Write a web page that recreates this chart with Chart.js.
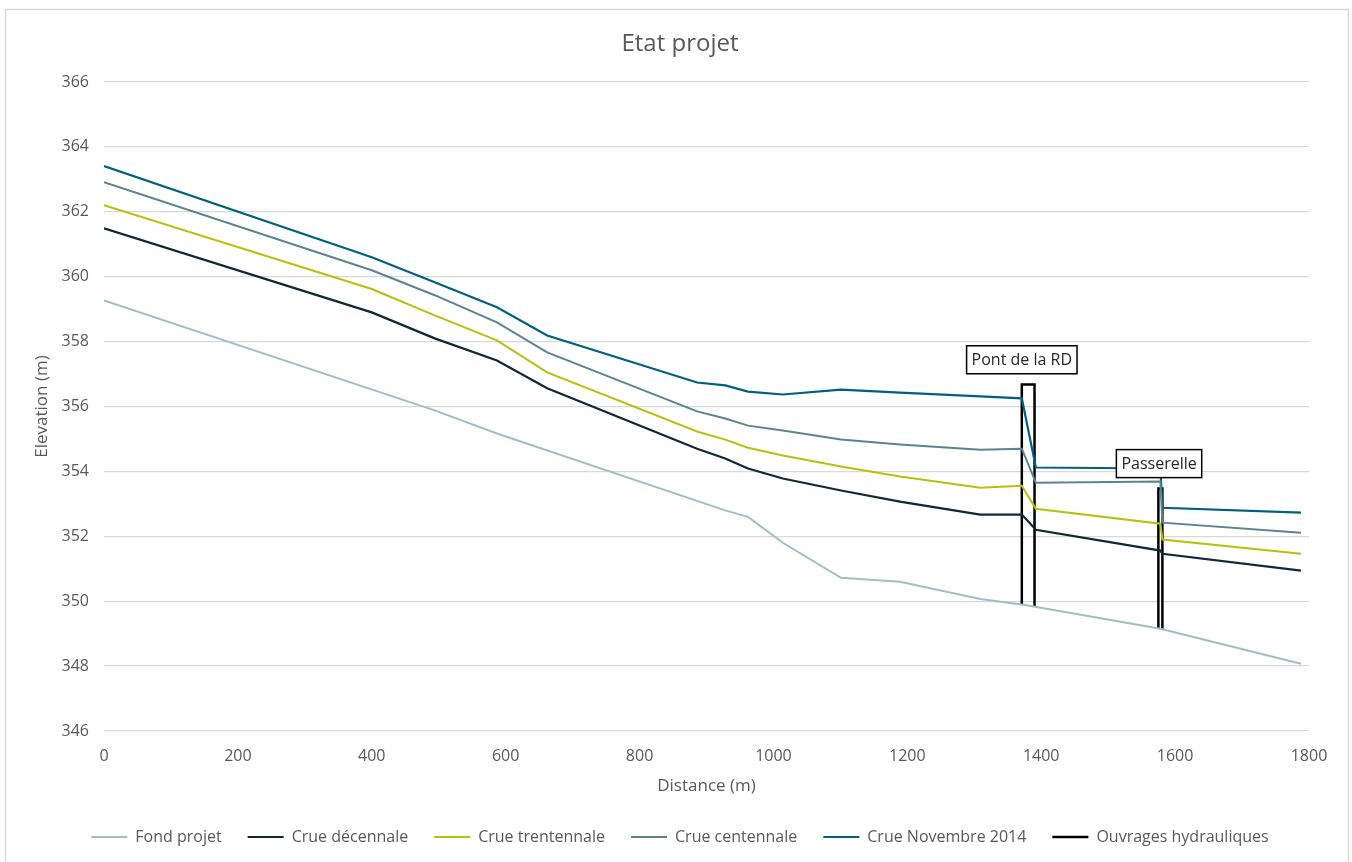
<!DOCTYPE html>
<html>
<head>
<meta charset="utf-8">
<script src="https://cdn.jsdelivr.net/npm/chart.js@4.4.1/dist/chart.umd.min.js"></script>
<style>
  html, body { margin: 0; padding: 0; background: #fff; }
  #wrap { position: absolute; left: 0; top: 0; width: 1352px; height: 862px; }
</style>
</head>
<body>
<div id="wrap"><canvas id="chart"></canvas></div>
<script>
// distances (m) and elevations (m)
const fondDist = [0, 494, 587, 928, 962, 1014, 1101, 1189, 1309, 1373, 1391, 1578, 1788];
const fondElev = [359.27, 355.88, 355.17, 352.80, 352.60, 351.80, 350.72, 350.60, 350.07, 349.89, 349.83, 349.15, 348.07];

const crueDist = [0, 400, 494, 587, 662, 886, 928, 962, 1014, 1101, 1189, 1309, 1371, 1392, 1578, 1581, 1788];
const decennale = [361.49, 358.90, 358.10, 357.42, 356.56, 354.70, 354.40, 354.09, 353.78, 353.41, 353.07, 352.67, 352.67, 352.20, 351.56, 351.46, 350.94];
const trentennale = [362.20, 359.62, 358.81, 358.04, 357.05, 355.23, 354.98, 354.73, 354.49, 354.15, 353.84, 353.50, 353.56, 352.85, 352.39, 351.90, 351.46];
const centennale = [362.91, 360.20, 359.43, 358.59, 357.67, 355.85, 355.63, 355.41, 355.26, 354.98, 354.83, 354.67, 354.70, 353.65, 353.69, 352.42, 352.11];
const novembre2014 = [363.41, 360.60, 359.83, 359.06, 358.19, 356.74, 356.65, 356.46, 356.37, 356.52, 356.43, 356.31, 356.25, 354.12, 354.09, 352.88, 352.73];

// bridge outlines, null = gap between the two structures
const ouvragesDist = [1371, 1371, 1390, 1390, 1480, 1575, 1575, 1581, 1581];
const ouvragesElev = [349.88, 356.68, 356.68, 349.83, null, 349.14, 353.47, 353.47, 349.12];

const ouvrageNames = ['Pont de la RD', 'Passerelle'];
const ouvrageLabelDist = [1371, 1576];
const ouvrageLabelElev = [357.44, 354.24];

const xTicksMin = 0, xTicksMax = 1800, xStep = 200;
const yTicksMin = 346, yTicksMax = 366, yStep = 2;

const pts = (xs, ys) => xs.map((x, i) => ({x: x, y: ys[i]}));

const FONT = '"Open Sans", "Noto Sans", sans-serif';
const GREY = '#595959';

const frame = {
    id: 'frame',
    beforeDraw(chart) {
        const ctx = chart.ctx;
        ctx.save();
        ctx.fillStyle = '#fff';
        ctx.fillRect(0, 0, chart.width, chart.height);
        ctx.strokeStyle = '#d9d9d9';
        ctx.lineWidth = 1.5;
        ctx.strokeRect(5.5, 9.5, 1343, 870);
        ctx.restore();
    }
};

const boxLabels = {
    id: 'boxLabels',
    afterDatasetsDraw(chart) {
        const ctx = chart.ctx;
        const xs = chart.scales.x, ys = chart.scales.y;
        ctx.save();
        ctx.font = '16px ' + FONT;
        ctx.textAlign = 'center';
        ctx.textBaseline = 'middle';
        ouvrageNames.forEach((name, i) => {
            const cx = xs.getPixelForValue(ouvrageLabelDist[i]);
            const cy = ys.getPixelForValue(ouvrageLabelElev[i]);
            const w = ctx.measureText(name).width + 10;
            const h = 28;
            ctx.fillStyle = '#fff';
            ctx.fillRect(cx - w / 2, cy - h / 2, w, h);
            ctx.strokeStyle = '#000';
            ctx.lineWidth = 1.5;
            ctx.strokeRect(cx - w / 2, cy - h / 2, w, h);
            ctx.fillStyle = '#262626';
            ctx.fillText(name, cx, cy + 1);
        });
        ctx.restore();
    }
};

const line = (label, data, color, width) => ({
    label: label,
    data: data,
    borderColor: color,
    backgroundColor: color,
    borderWidth: width,
    showLine: true,
    pointRadius: 0,
    pointHoverRadius: 0,
    tension: 0,
    spanGaps: false,
    pointStyle: 'line'
});

new Chart(document.getElementById('chart'), {
    type: 'scatter',
    data: {
        datasets: [
            line('Fond projet', pts(fondDist, fondElev), '#9fbfc4', 2),
            line('Crue décennale', pts(crueDist, decennale), '#0f2838', 2.2),
            line('Crue trentennale', pts(crueDist, trentennale), '#b3c30c', 2),
            line('Crue centennale', pts(crueDist, centennale), '#5a8492', 2),
            line('Crue Novembre 2014', pts(crueDist, novembre2014), '#00607f', 2.2),
            line('Ouvrages hydrauliques', pts(ouvragesDist, ouvragesElev), '#000000', 2.5)
        ]
    },
    options: {
        responsive: true,
        maintainAspectRatio: false,
        animation: false,
        // left pad larger than right so that title and legend centre at ~680px
        layout: {padding: {left: 51, right: 43, top: 10, bottom: 7}},
        plugins: {
            title: {
                display: true,
                text: 'Etat projet',
                color: GREY,
                font: {family: FONT, size: 24, weight: 'normal'},
                padding: {top: 19.6, bottom: 23.6}
            },
            legend: {
                position: 'bottom',
                labels: {
                    usePointStyle: true,
                    pointStyleWidth: 36,
                    color: GREY,
                    font: {family: FONT, size: 16},
                    padding: 26
                }
            },
            tooltip: {enabled: false}
        },
        scales: {
            x: {
                type: 'linear',
                min: xTicksMin,
                max: xTicksMax,
                ticks: {stepSize: xStep, color: GREY, padding: 16, font: {family: FONT, size: 16},
                        callback: v => String(v)},
                grid: {display: false, drawTicks: false},
                border: {display: false},
                title: {display: true, text: 'Distance (m)', color: GREY, font: {family: FONT, size: 17}, padding: {top: 0, bottom: 7}},
                afterFit(scale) { scale.height = 72; }
            },
            y: {
                type: 'linear',
                min: yTicksMin,
                max: yTicksMax,
                ticks: {stepSize: yStep, color: GREY, padding: 15, font: {family: FONT, size: 16}},
                grid: {color: '#d9d9d9', lineWidth: 1.3, drawTicks: false},
                border: {display: false},
                title: {display: true, text: 'Elevation (m)', color: GREY, font: {family: FONT, size: 17}, padding: {top: -19, bottom: 0}},
                afterFit(scale) { scale.width = 53; }
            }
        }
    },
    plugins: [frame, boxLabels]
});
</script>
</body>
</html>
